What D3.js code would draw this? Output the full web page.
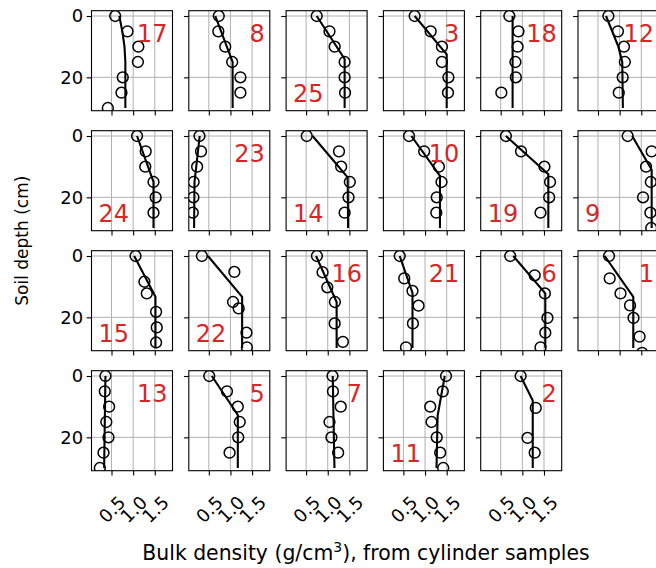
<!DOCTYPE html>
<html><head><meta charset="utf-8">
<script src="https://cdn.jsdelivr.net/npm/d3@7"></script>
<style>body{margin:0;background:#fff}svg{display:block}text{font-family:"DejaVu Sans",sans-serif}</style>
</head><body>
<script>
// Site numbers in grid order (row by row)
const sites = [17,8,25,3,18,12, 24,23,14,10,19,9, 15,22,16,21,6,1, 13,5,7,11,2];
// Label placement: "tr" top-right, "bl" bottom-left
const labelPos = ["tr","tr","bl","tr","tr","tr", "bl","tr","bl","tr","bl","bl", "bl","bl","tr","tr","tr","tr", "tr","tr","tr","bl","tr"];
// Cylinder sample depths (cm)
const sampleDepth = [
 [0,5,10,15,20,25,30],[0,5,10,15,20,25],[0,5,10,15,20,25],[0,5,10,15,20,25],[0,5,10,15,20,25],[0,5,10,15,20,25],
 [0,5,10,15,20,25],[0,5,10,15,20,25],[0,5,10,15,20,25],[0,5,10,15,20,25],[0,5,10,15,20,25],[0,5,10,15,20,25,30],
 [0,8.4,12.2,18.2,23.3,28.2],[0,5.2,15,17.1,25,29.8],[0,5.3,10.2,15,22,28],[0,7.3,11.4,16.2,22,29.8],[0,6.3,12.2,20.2,25,29.8],[0,7.3,12.2,16.1,20.2,26.3,31.6],
 [0,5,10,15,20,25,30],[0,5,10,15,20,25],[0,5,10,15,20,25],[0,5,10,15,20,25,30],[0,10.4,20.2,25]
];
// Bulk density of samples (g/cm3)
const sampleDensity = [
 [0.585,0.87,1.12,1.11,0.76,0.73,0.415],[0.73,0.72,0.88,1.04,1.23,1.23],[0.745,1.04,1.16,1.39,1.39,1.40],[0.76,1.13,1.39,1.39,1.54,1.53],[0.70,0.91,0.89,0.84,0.85,0.515],[0.74,0.96,1.10,1.12,1.07,0.98],
 [1.09,1.29,1.28,1.47,1.52,1.47],[0.285,0.32,0.23,0.15,0.145,0.13],[0.515,1.26,1.31,1.51,1.48,1.39],[0.63,0.98,1.32,1.38,1.27,1.26],[0.62,0.97,1.51,1.64,1.62,1.42],[1.185,1.74,1.61,1.72,1.54,1.71,1.73],
 [1.055,1.26,1.315,1.53,1.545,1.53],[0.34,1.09,1.06,1.19,1.37,1.38],[0.75,0.88,0.99,1.165,1.16,1.35],[0.415,0.52,0.71,0.85,0.72,0.56],[0.72,1.285,1.52,1.58,1.53,1.42],[0.755,0.77,1.02,1.24,1.32,1.46,1.52],
 [0.36,0.345,0.445,0.38,0.43,0.315,0.23],[0.51,0.92,1.17,1.215,1.18,0.98],[1.11,1.12,1.30,1.04,1.085,1.24],[1.485,1.41,1.12,1.15,1.27,1.35,1.42],[0.96,1.31,1.12,1.285]
];
// Fitted profile vertices: depths and densities
const fitDepth = [
 [0,5,10,15,30],[0,15,30],[0,14,30],[0,12.5,30],[0,30],[0,10,15,30],
 [0,15,30],[0,15,30],[0,13.5,30],[0,13,30],[0,12.5,30],[0,11,30],
 [0,13.3,30],[0,13.3,30],[0,15,30],[0,12,30],[0,12.2,30],[0,13.3,30],
 [0,30],[0,12.7,30],[0,30],[0,13,30],[0,8,30]
];
const fitDensity = [
 [0.68,0.75,0.80,0.82,0.82],[0.65,1.05,1.05],[0.745,1.39,1.39],[0.76,1.5,1.5],[0.775,0.775],[0.685,0.97,1.06,1.075],
 [1.09,1.47,1.47],[0.29,0.17,0.16],[0.65,1.46,1.47],[0.685,1.345,1.345],[0.62,1.6,1.6],[1.29,1.74,1.74],
 [1.025,1.515,1.515],[0.48,1.27,1.27],[0.73,1.205,1.205],[0.415,0.71,0.71],[0.79,1.53,1.53],[0.655,1.315,1.315],
 [0.36,0.33],[0.57,1.17,1.17],[1.115,1.155],[1.455,1.29,1.265],[0.96,1.24,1.24]
];
const xTicks = [0.5,1.0,1.5];
const xTickLabels = ["0.5","1.0","1.5"];
const yTicks = [0,20];
const yTickLabels = ["0","20"];
const xLabel = "Bulk density (g/cm";
const yLabel = "Soil depth (cm)";

const W=656,H=568, nCols=6, nRows=4;
const left0=91.5, pitchX=97.3, pw=81, top0=10.7, pitchY=120, ph=100;
const red="#d62728";
const tickFont=18;
const svg=d3.select("body").append("svg").attr("width",W).attr("height",H);
const x=d3.scaleLinear().domain([0.038,1.909]).range([0,pw]);
const y=d3.scaleLinear().domain([-1.73,30.88]).range([0,ph]);

sites.forEach((site,i)=>{
  const r=Math.floor(i/nCols), c=i%nCols;
  const gx=left0+c*pitchX, gy=top0+r*pitchY;
  const g=svg.append("g").attr("transform",`translate(${gx},${gy})`);
  const cid="clip"+i;
  g.append("clipPath").attr("id",cid).append("rect").attr("width",pw).attr("height",ph);
  // grid
  g.selectAll(".gx").data(xTicks).join("line").attr("x1",d=>x(d)).attr("x2",d=>x(d)).attr("y1",0).attr("y2",ph)
    .attr("stroke","#b0b0b0").attr("stroke-width",1);
  g.selectAll(".gy").data(yTicks).join("line").attr("y1",d=>y(d)).attr("y2",d=>y(d)).attr("x1",0).attr("x2",pw)
    .attr("stroke","#b0b0b0").attr("stroke-width",1);
  const isBottom = (r===nRows-1) ;
  // axes
  const xa=d3.axisBottom(x).tickValues(xTicks).tickSize(4.9).tickPadding(3.5).tickFormat(isBottom?((d,k)=>xTickLabels[k]):"");
  const ya=d3.axisLeft(y).tickValues(yTicks).tickSize(4.9).tickPadding(3.5).tickFormat(c===0?((d,k)=>yTickLabels[k]):"");
  const gxa=g.append("g").attr("transform",`translate(0,${ph})`).call(xa);
  const gya=g.append("g").call(ya);
  [gxa,gya].forEach(a=>{a.attr("font-size",tickFont).attr("font-family","DejaVu Sans");
    a.select(".domain").remove();a.selectAll(".tick line").attr("stroke","#000").attr("stroke-width",1.1);
    a.selectAll("text").attr("font-size",tickFont).attr("fill","#000");});
  if(isBottom){
    gxa.selectAll(".tick text").attr("text-anchor","middle").attr("dy",null).attr("y",null)
      .attr("dominant-baseline","central").attr("transform","translate(0,38.5) rotate(-45)");
  }
  const content=g.append("g").attr("clip-path",`url(#${cid})`);
  const line=d3.line().x(d=>x(d[1])).y(d=>y(d[0]));
  content.append("path").datum(fitDepth[i].map((d,k)=>[d,fitDensity[i][k]])).attr("d",line)
    .attr("fill","none").attr("stroke","#000").attr("stroke-width",2.1);
  content.selectAll("circle").data(sampleDepth[i].map((d,k)=>[d,sampleDensity[i][k]])).join("circle")
    .attr("cx",d=>x(d[1])).attr("cy",d=>y(d[0])).attr("r",5.4).attr("fill","none").attr("stroke","#000").attr("stroke-width",1.5);
  // frame
  g.append("rect").attr("width",pw).attr("height",ph).attr("fill","none").attr("stroke","#000").attr("stroke-width",1.1);
  // site label
  if(labelPos[i]==="tr"){
    g.append("text").attr("x",pw-5).attr("y",31).attr("text-anchor","end").attr("font-size",24).attr("fill",red).text(site);
  } else {
    g.append("text").attr("x",7).attr("y",ph-9).attr("text-anchor","start").attr("font-size",24).attr("fill",red).text(site);
  }
});
// axis labels
svg.append("text").attr("transform","translate(28,240.7) rotate(-90)").attr("text-anchor","middle")
  .attr("font-size",17).text(yLabel);
const xl=svg.append("text").attr("x",366).attr("y",560).attr("text-anchor","middle").attr("font-size",20.4);
xl.append("tspan").text(xLabel);
xl.append("tspan").attr("font-size",14).attr("dy",-8).text("3");
xl.append("tspan").attr("dy",8).text("), from cylinder samples");
</script>
</body></html>
